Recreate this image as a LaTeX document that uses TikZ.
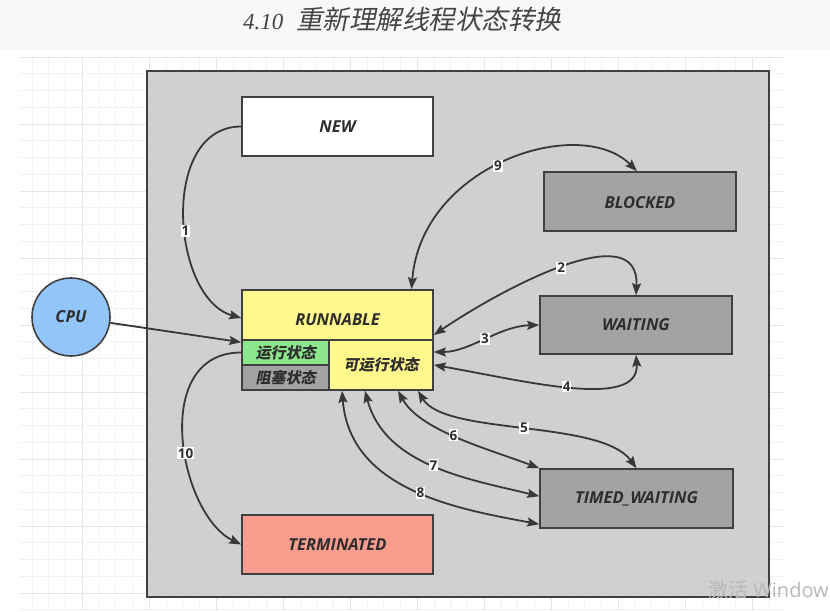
\documentclass[tikz,border=0pt]{standalone}
\usepackage{fontspec}
\setmainfont{Open Sans}
\newfontfamily\cjk{Noto Sans CJK SC}[FakeSlant=0.2,BoldFeatures={FakeSlant=0.2}]
\newfontfamily\cjkup{Noto Sans CJK SC}
\newfontfamily\titleserif{Liberation Serif}
\usetikzlibrary{arrows.meta}
\definecolor{panel}{HTML}{D0D0D0}
\definecolor{boxline}{HTML}{404040}
\definecolor{edgec}{HTML}{383838}
\definecolor{txt}{HTML}{2E2E2E}
\definecolor{graybox}{HTML}{A3A3A3}
\definecolor{yel}{HTML}{FFF88C}
\definecolor{grn}{HTML}{8CE68C}
\definecolor{salmon}{HTML}{FA9D8F}
\definecolor{cpublue}{HTML}{92C5FA}
\definecolor{gridminor}{HTML}{F1F1F1}
\definecolor{gridmajor}{HTML}{E5E5E5}
\definecolor{topbg}{HTML}{F8F8FA}
\definecolor{wm}{HTML}{B8B8B8}
\definecolor{titlec}{HTML}{454545}
\tikzset{
  box/.style={draw=boxline, line width=1.6pt, inner sep=0pt, text=txt,
    font=\bfseries\itshape\fontsize{16.5}{16.5}\selectfont},
  boxtext/.style={inner sep=0pt, text=txt, font=\bfseries\itshape\fontsize{16.5}{16.5}\selectfont},
  cjkbox/.style={draw=boxline, line width=1.6pt, inner sep=0pt, text=txt,
    font=\cjk\bfseries\fontsize{15}{15}\selectfont},
  arr/.style={draw=edgec, line width=1.8pt, -{Stealth[length=12pt,width=9pt,inset=2pt]}},
  arrtwo/.style={draw=edgec, line width=1.8pt, {Stealth[length=12pt,width=9pt,inset=2pt]}-{Stealth[length=12pt,width=9pt,inset=2pt]}},
  lbl/.style={fill=white, inner sep=1pt, text=txt, font=\bfseries\fontsize{13.5}{13.5}\selectfont}
}
\begin{document}
\begin{tikzpicture}[x=1pt,y=-1pt]
\useasboundingbox (0,0) rectangle (830,611);
\fill[white] (0,0) rectangle (830,611);
\fill[topbg] (0,0) rectangle (830,50);
% grid
\begin{scope}
\clip (20,57) rectangle (785,611);
\foreach \i in {0,...,46}{
  \pgfmathtruncatemacro{\m}{mod(\i,4)}
  \ifnum\m=0 \draw[gridmajor, line width=1pt] ({15.25+16.75*\i},57) -- ({15.25+16.75*\i},611);
  \else \draw[gridminor, line width=0.8pt] ({15.25+16.75*\i},57) -- ({15.25+16.75*\i},611); \fi
}
\foreach \j in {0,...,33}{
  \pgfmathtruncatemacro{\m}{mod(\j,4)}
  \ifnum\m=0 \draw[gridmajor, line width=1pt] (20,{57+16.75*\j}) -- (785,{57+16.75*\j});
  \else \draw[gridminor, line width=0.8pt] (20,{57+16.75*\j}) -- (785,{57+16.75*\j}); \fi
}
\end{scope}
% title
\node[text=titlec, anchor=base west, inner sep=0pt] (title) at (243,29)
  {{\titleserif\itshape\fontsize{23}{23}\selectfont 4.10}\hspace{13pt}{\cjk\fontsize{26.5}{26.5}\selectfont 重新理解线程状态转换}};
% panel
\node[draw=boxline, fill=panel, line width=1.6pt, minimum width=622pt, minimum height=526pt, inner sep=0pt] (panel) at (458,334) {};
% states
\node[box, fill=white, minimum width=191pt, minimum height=59pt] (new) at (337.5,126.5) {NEW};
\node[box, fill=graybox, minimum width=192pt, minimum height=59pt] (blocked) at (640,201.5) {};
\node[boxtext] (blockedtxt) at (640,203) {BLOCKED};
\node[box, fill=yel, minimum width=191pt, minimum height=50pt] (run) at (337.5,315) {};
\node[boxtext] (runtxt) at (337.5,320) {RUNNABLE};
\node[cjkbox, fill=grn, minimum width=87pt, minimum height=25pt] (run1) at (285.5,352.5) {运行状态};
\node[cjkbox, fill=graybox, minimum width=87pt, minimum height=25pt] (blk) at (285.5,377.5) {阻塞状态};
\node[cjkbox, fill=yel, minimum width=104pt, minimum height=50pt] (ready) at (381,365) {可运行状态};
\node[box, fill=graybox, minimum width=192pt, minimum height=58pt] (waiting) at (636,325) {WAITING};
\node[box, fill=graybox, minimum width=193pt, minimum height=59pt] (timed) at (636.5,498.5) {TIMED\_WAITING};
\node[box, fill=salmon, minimum width=191pt, minimum height=59pt] (term) at (337.5,544.5) {TERMINATED};
\node[box, circle, fill=cpublue, minimum size=78pt] (cpu) at (71,317) {CPU};
% edges
\draw[arr] (new.west) .. controls +(-82,0) and +(-70,-20) .. ([yshift=-3pt]run.west) node[lbl,pos=.56]{1};
\draw[arr] (cpu) -- ([yshift=-3pt]run1.north west);
\draw[arr] (run1.west) .. controls +(-92,0) and +(-62,-30) .. (term.west) node[lbl,pos=.56]{10};
\draw[arrtwo] ([xshift=74pt]run.north) .. controls +(10,-125) and +(-57,-57) .. ([xshift=-3pt]blocked.north) node[lbl,pos=.47]{9};
\draw[arrtwo] ([yshift=-20pt]run.east) .. controls +(66,-45) and +(4,-81) .. (waiting.north) node[lbl,pos=.5]{2};
\draw[arrtwo] ([yshift=13pt]ready.east) .. controls +(36,0) and +(-40,1) .. (waiting.west) node[lbl,pos=.5]{3};
\draw[arrtwo] (ready.east) .. controls +(87,15) and +(4,56) .. (waiting.south) node[lbl,pos=.49]{4};
\draw[arrtwo] ([xshift=37pt]ready.south) .. controls +(27,45) and +(-36,-49) .. (timed.north) node[lbl,pos=.5]{5};
\draw[arrtwo] ([xshift=17pt]ready.south) .. controls +(22,40) and +(-50,-19) .. (timed.north west) node[lbl,pos=.47]{6};
\draw[arrtwo] ([xshift=-16pt]ready.south) .. controls +(20,75) and +(-70,-17) .. ([yshift=-28pt]timed.north west) node[lbl,pos=.5]{7};
\draw[arrtwo] ([xshift=-39pt]ready.south) .. controls +(8,100) and +(-80,-15) .. ([yshift=-56pt]timed.north west) node[lbl,pos=.53]{8};
% watermark
\node[anchor=base west, text=wm, inner sep=0pt, font=\fontsize{20}{20}\selectfont] (wmark) at (708,597) {{\cjkup 激活} Windows};
\end{tikzpicture}
\end{document}
